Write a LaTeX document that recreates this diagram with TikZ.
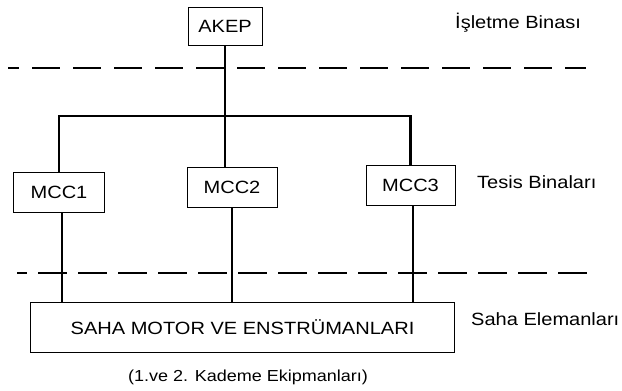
\documentclass[tikz,border=0pt]{standalone}
\usepackage{fontspec}
\setmainfont{Liberation Sans}[FakeStretch=1.13]
\begin{document}
\begin{tikzpicture}[x=1bp,y=-1bp,
  box/.style={draw, line width=1bp, inner sep=0pt, font=\fontsize{17.8}{20}\selectfont},
  conn/.style={line width=2.6bp},
  sepline/.style={line width=1.1bp},
  lbl/.style={anchor=base west, inner sep=0pt, font=\fontsize{17.8}{20}\selectfont},
  captxt/.style={anchor=base, inner sep=0pt, font=\fontsize{16}{18}\selectfont}]
\useasboundingbox (0,0) rectangle (622,390);
% boxes
\node[box, minimum width=74bp, minimum height=38bp] (akep) at (225,26) {AKEP};
\node[box, minimum width=90bp, minimum height=40bp] (mcc1) at (59,192) {MCC1};
\node[box, minimum width=90bp, minimum height=40bp] (mcc2) at (232,187) {MCC2};
\node[box, minimum width=89bp, minimum height=40bp] (mcc3) at (410.5,185) {MCC3};
\node[box, minimum width=423bp, minimum height=50bp] (saha) at (242.5,327) {SAHA MOTOR VE ENSTRÜMANLARI};
% labels
\node[lbl] (l1) at (455,28) {İşletme Binası};
\node[lbl] (l2) at (477,188) {Tesis Binaları};
\node[lbl] (l3) at (471,325) {Saha Elemanları};
\node[captxt] (l4) at (248,381) {(1.ve 2. Kademe Ekipmanları)};
% separators
\coordinate (s1a) at (8,68);
\coordinate (s1b) at (586,68);
\coordinate (s2a) at (17,273);
\coordinate (s2b) at (588,273);
\draw[sepline, dash pattern=on 28bp off 13bp, dash phase=17bp] (s1a) -- (s1b);
\draw[sepline, dash pattern=on 29bp off 11bp, dash phase=19bp] (s2a) -- (s2b);
% connectors
\coordinate (busy) at (0,116);
\draw[conn] (mcc1.north) -- (mcc1.north |- busy) -- (mcc3.north |- busy) -- (mcc3.north);
\draw[conn] (akep.south) -- (akep.south |- busy) -- (akep.south |- mcc2.north);
\coordinate (m1b) at ([xshift=3bp]mcc1.south);
\coordinate (m3b) at ([xshift=2.5bp]mcc3.south);
\draw[conn] (m1b) -- (m1b |- saha.north);
\draw[conn] (mcc2.south) -- (mcc2.south |- saha.north);
\draw[conn] (m3b) -- (m3b |- saha.north);
\end{tikzpicture}
\end{document}
